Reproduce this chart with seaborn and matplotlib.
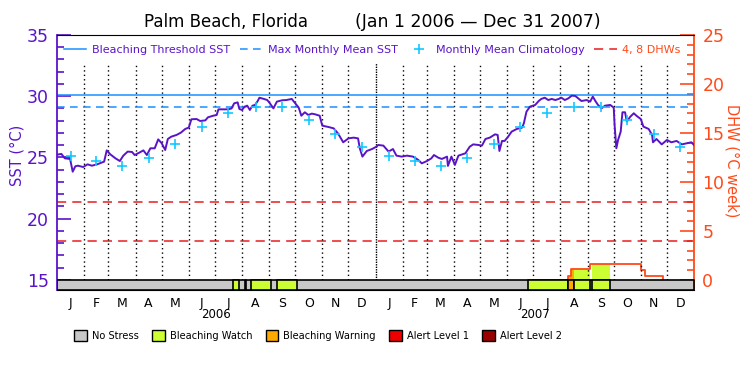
import numpy as np
import pandas as pd
import matplotlib
matplotlib.use('Agg')
import matplotlib.pyplot as plt
import seaborn as sns
from matplotlib.patches import Patch
from matplotlib.lines import Line2D

# cores
ROXO = '#5a14c8'
LARANJA = '#ff4a1a'
AZUL = '#1a90ff'
CIANO = '#14c8ff'
VERMELHO = '#e81c1c'
CORES_STRESS = {'none': '#c8c8c8', 'watch': '#ccff33', 'warning': '#ffaa00',
                'alert1': '#ee0000', 'alert2': '#990000'}

# dados (dias desde 1 Jan 2006)
sst_day = [0, 5, 9, 15, 18, 21, 24, 30, 35, 40, 46, 51, 54, 57, 61, 67, 72, 76, 81, 86,
           89, 95, 99, 103, 107, 112, 116, 120, 124, 127, 131, 137, 142, 147, 151, 154, 160,
           164, 170, 173, 179, 183, 185, 196, 200, 203, 207, 209, 212, 215, 218, 221, 224,
           227, 230, 232, 237, 241, 244, 248, 252, 258, 263, 269, 273, 277, 280, 284, 288,
           292, 296, 301, 304, 311, 317, 322, 328, 334, 340, 345, 347, 350, 355, 361, 366,
           368, 374, 380, 385, 389, 395, 401, 408, 414, 418, 424, 429, 432, 437, 441, 447,
           448, 452, 456, 460, 468, 473, 477, 483, 487, 491, 496, 502, 505, 507, 510, 513,
           517, 521, 527, 533, 535, 538, 542, 548, 552, 555, 559, 563, 567, 571, 575, 578,
           582, 586, 590, 594, 598, 601, 607, 611, 614, 617, 620, 624, 628, 634, 638, 639,
           641, 643, 646, 648, 651, 653, 657, 661, 664, 669, 672, 678, 682, 683, 687, 693,
           699, 704, 710, 716, 722, 727, 730]
sst_val = [25.23, 25.29, 24.93, 24.88, 23.84, 24.28, 24.33, 24.22, 24.44, 24.33, 24.44, 24.58,
           24.66, 25.58, 25.26, 24.93, 24.71, 25.15, 25.48, 25.45, 25.20, 25.42, 25.58, 25.20,
           25.75, 25.75, 26.48, 26.16, 25.61, 26.51, 26.70, 26.84, 27.03, 27.33, 27.44, 28.12,
           28.14, 27.98, 28.03, 28.28, 28.41, 28.47, 28.93, 28.93, 29.00, 29.42, 29.50, 28.96,
           28.88, 29.15, 29.23, 28.88, 29.23, 29.29, 29.61, 29.88, 29.78, 29.69, 29.42, 29.01,
           29.56, 29.67, 29.69, 29.78, 29.42, 29.07, 28.41, 28.69, 28.47, 28.58, 28.52, 28.41,
           27.60, 27.49, 27.38, 26.97, 26.24, 26.56, 26.62, 26.56, 25.75, 25.07, 25.53, 25.69,
           25.88, 26.02, 25.97, 25.48, 25.69, 25.15, 25.07, 25.15, 25.07, 24.80, 24.52, 24.71,
           24.93, 25.20, 24.98, 24.88, 25.07, 24.31, 25.07, 24.39, 25.15, 25.34, 25.88, 26.07,
           26.02, 25.97, 26.51, 26.62, 26.89, 26.84, 25.53, 26.35, 26.35, 26.70, 27.11, 27.33,
           27.44, 27.79, 28.74, 29.15, 29.29, 29.61, 29.78, 29.88, 29.69, 29.78, 29.69, 29.78,
           29.88, 29.69, 29.83, 30.05, 30.02, 29.78, 29.61, 29.69, 29.56, 29.97, 29.61, 29.29,
           29.01, 29.23, 29.29, 29.07, 27.65, 25.75, 26.43, 27.11, 28.69, 28.69, 27.93, 28.33,
           28.61, 28.41, 28.14, 27.52, 27.33, 26.84, 26.24, 26.51, 26.07, 26.43, 26.24, 26.35,
           26.07, 26.16, 26.24, 26.02]

clim_mes = [25.1, 24.7, 24.3, 24.95, 26.1, 27.45, 28.65, 29.1, 29.1, 28.05, 26.95, 25.85]
limiar_branqueamento = 30.1
mmm = 29.1

# DHW (degree heating weeks) em 2007
dhw_day = [586, 586, 589, 611, 669, 674, 695]
dhw_val = [0.0, 0.44, 1.12, 1.6, 0.99, 0.44, 0.0]
dhw_linhas = [4, 8]

# segmentos de stress: inicio, duração, nivel
stress_ini = [202, 215, 222, 252, 540, 586, 593, 613]
stress_dur = [6, 2, 23, 23, 46, 7, 18, 21]
stress_niv = ['watch', 'watch', 'watch', 'watch', 'watch', 'warning', 'watch', 'watch']

letras_mes = ['J', 'F', 'M', 'A', 'M', 'J', 'J', 'A', 'S', 'O', 'N', 'D'] * 2
anos = ['2006', '2007']

# conversões
inicio = pd.Timestamp('2006-01-01')
meses = pd.date_range('2006-01-01', '2008-01-01', freq='MS')
dia_mes = np.array((meses - inicio).days)
meio_mes = (dia_mes[:-1] + dia_mes[1:]) / 2

def sst_para_dhw(v):
    return 1.25 * (v - 15)

Y0 = 14.18

fig = plt.figure(figsize=(7.5, 3.75), dpi=100)
ax = fig.add_axes([57 / 750, 85 / 375, 637 / 750, 255 / 375])
ax2 = ax.twinx()

# linhas verticais dos meses
for d in dia_mes[1:-1]:
    estilo = (0, (1, 0.8)) if d == 365 else (0, (1, 2.2))
    ax.vlines(d, 15, 32.7, colors='black', linestyles=[estilo], linewidth=1.0, zorder=1)

# faixa de stress
ax.broken_barh([(0, 730)], (Y0, 15 - Y0), facecolors=CORES_STRESS['none'],
               edgecolors='black', linewidth=1.2, zorder=3)
for ini, dur, niv in zip(stress_ini, stress_dur, stress_niv):
    ax.broken_barh([(ini, dur)], (Y0, 15 - Y0), facecolors=CORES_STRESS[niv],
                   edgecolors='black', linewidth=1.2, zorder=4)

# linhas horizontais
ax.axhline(limiar_branqueamento, color=AZUL, lw=1.1, zorder=2)
ax.axhline(mmm, color=AZUL, lw=1.1, ls=(0, (5, 3.5)), zorder=2)
for v in dhw_linhas:
    ax2.axhline(v, color=VERMELHO, lw=1.1, ls=(0, (6, 4)), zorder=2)

# SST
sns.lineplot(x=sst_day, y=sst_val, ax=ax, color=ROXO, linewidth=1.4, zorder=5)
sns.scatterplot(x=meio_mes, y=clim_mes * 2, ax=ax, marker='+', s=60, color=CIANO,
                linewidth=1.2, zorder=6)

# DHW com preenchimento pelo nivel de stress
dd = np.array(dhw_day)
dv = np.array(dhw_val)
for ini, dur, niv in zip(stress_ini, stress_dur, stress_niv):
    xs = np.arange(ini, ini + dur + 1)
    idx = np.searchsorted(dd, xs, side='right') - 1
    ys = np.where(idx >= 0, dv[np.clip(idx, 0, None)], 0)
    ax2.fill_between(xs, 0, ys, step='post', color=CORES_STRESS[niv], linewidth=0, zorder=3)
ax2.plot(dhw_day, dhw_val, drawstyle='steps-post', color=LARANJA, lw=1.3, zorder=4)

# eixos
ax.set_xlim(0, 730)
ax.set_ylim(Y0, 35)
ax2.set_ylim(sst_para_dhw(Y0), 25)
ax.set_zorder(2)
ax.patch.set_visible(False)
ax2.set_zorder(1)

ax.set_yticks([15, 20, 25, 30, 35])
ax.set_yticks(range(15, 36), minor=True)
ax.tick_params(axis='y', which='major', direction='in', length=10, width=1.2,
               colors=ROXO, labelsize=12.5, pad=6)
ax.tick_params(axis='y', which='minor', direction='in', length=5, width=1.2, colors=ROXO)

ax2.set_yticks([0, 5, 10, 15, 20, 25])
ax2.set_yticks(range(0, 26), minor=True)
ax2.tick_params(axis='y', which='major', direction='in', length=10, width=1.2,
                colors=LARANJA, labelsize=12.5, pad=6)
ax2.tick_params(axis='y', which='minor', direction='in', length=5, width=1.2, colors=LARANJA)

fig.text(17 / 750, 1 - 155 / 375, 'SST (°C)', color=ROXO, fontsize=10.5, rotation=90,
         ha='center', va='center')
fig.text(732 / 750, 1 - 161 / 375, 'DHW (°C week)', color=LARANJA, fontsize=10.5,
         rotation=270, ha='center', va='center')

ax.set_xticks(meio_mes)
ax.set_xticklabels(letras_mes, fontsize=9)
ax.tick_params(axis='x', length=0, pad=5)
for i, a in enumerate(anos):
    ax.text(182.5 + 365 * i, -0.098, a, transform=ax.get_xaxis_transform(),
            ha='center', va='center', fontsize=8.5)

for s in ['top', 'bottom']:
    ax.spines[s].set_color('black')
    ax2.spines[s].set_visible(False)
ax.spines['left'].set_color(ROXO)
ax.spines['left'].set_linewidth(1.3)
ax.spines['right'].set_visible(False)
ax2.spines['left'].set_visible(False)
ax2.spines['right'].set_color(LARANJA)
ax2.spines['right'].set_linewidth(1.3)

# legenda de cima
hand = [Line2D([], [], color=AZUL, lw=1.1),
        Line2D([], [], color=AZUL, lw=1.1, ls=(0, (5, 3.5))),
        Line2D([], [], color=CIANO, marker='+', ls='none', ms=7, mew=1.2),
        Line2D([], [], color=VERMELHO, lw=1.1, ls=(0, (6, 4)))]
nomes = ['Bleaching Threshold SST', 'Max Monthly Mean SST', 'Monthly Mean Climatology',
         '4, 8 DHWs']
leg = ax.legend(hand, nomes, loc='center', bbox_to_anchor=(0.495, 0.94), ncol=4,
                frameon=False, fontsize=8.0, handlelength=2.0, handletextpad=0.5,
                columnspacing=0.9, borderaxespad=0)
for t, c in zip(leg.get_texts(), [ROXO, ROXO, ROXO, LARANJA]):
    t.set_color(c)

# legenda de baixo
nomes_stress = ['No Stress', 'Bleaching Watch', 'Bleaching Warning', 'Alert Level 1',
                'Alert Level 2']
hand2 = [Patch(facecolor=c, edgecolor='black', linewidth=1.0) for c in CORES_STRESS.values()]
fig.legend(hand2, nomes_stress, loc='center', bbox_to_anchor=(0.424, 0.105), ncol=5,
           frameon=False, fontsize=7.1, handlelength=1.3, handleheight=1.3,
           handletextpad=0.5, columnspacing=1.35)

# titulo
fig.text(144 / 750, 1 - 22 / 375, 'Palm Beach, Florida', fontsize=12, va='center', ha='left')
fig.text(355 / 750, 1 - 22 / 375, '(Jan 1 2006 \u2014 Dec 31 2007)', fontsize=12.5,
         va='center', ha='left')

fig.savefig('out.png', dpi=100)
plt.close()
